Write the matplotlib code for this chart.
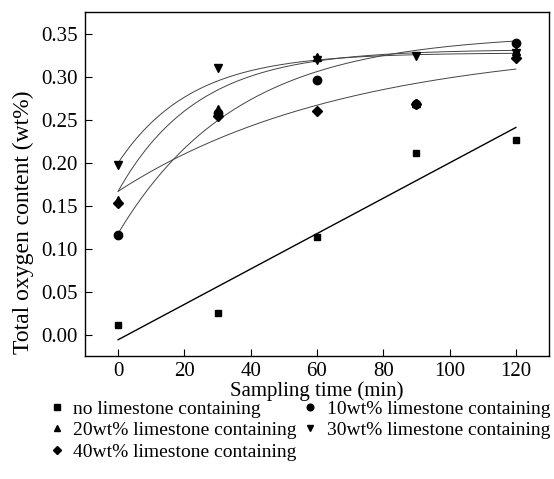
import numpy as np
import matplotlib.pyplot as plt
from matplotlib.ticker import FormatStrFormatter

plt.rcParams['font.family'] = ['Liberation Serif', 'DejaVu Serif']

# sampling times (min)
t = [0, 30, 60, 90, 120]

# total oxygen content (wt%)
no_lime = [0.011, 0.026, 0.114, 0.211, 0.227]
lime10 = [0.116, 0.258, 0.296, 0.269, 0.340]
lime20 = [0.157, 0.263, 0.323, 0.270, 0.330]
lime30 = [0.197, 0.310, 0.320, 0.324, 0.328]
lime40 = [0.153, 0.254, 0.260, 0.269, 0.322]

labels = ['no limestone containing', '10wt% limestone containing',
          '20wt% limestone containing', '30wt% limestone containing',
          '40wt% limestone containing']

# fitted curves y = a - b*exp(-x/tau), parameters
fit10 = (0.350, 0.232, 36.0)
fit20 = (0.332, 0.165, 24.0)
fit30 = (0.328, 0.128, 22.0)
fit40 = (0.3394, 0.1724, 69.0)


def expfit(x, p):
    a, b, tau = p
    return a - b*np.exp(-x/tau)


fig = plt.figure(figsize=(5.54, 4.79), dpi=100)
ax = fig.add_axes([0.1534, 0.2568, 0.8376, 0.7182])

xs = np.linspace(0, 120, 200)
k, c = np.polyfit(t, no_lime, 1)
ax.plot(xs, k*xs + c, color='black', lw=1.0)
for p in (fit10, fit20, fit30, fit40):
    ax.plot(xs, expfit(xs, p), color='#444444', lw=0.7)

ax.plot(t, no_lime, 's', color='black', ms=5, ls='none', label=labels[0])
ax.plot(t, lime10, 'o', color='black', ms=6, ls='none', label=labels[1])
ax.plot(t, lime20, '^', color='black', ms=6, ls='none', label=labels[2])
ax.plot(t, lime30, 'v', color='black', ms=6, ls='none', label=labels[3])
ax.plot(t, lime40, 'D', color='black', ms=5, ls='none', label=labels[4])

ax.set_xlim(-10, 130)
ax.set_ylim(-0.0245, 0.3755)
ax.set_xticks([0, 20, 40, 60, 80, 100, 120])
ax.set_yticks(np.arange(0, 0.36, 0.05))
ax.yaxis.set_major_formatter(FormatStrFormatter('%.2f'))
ax.tick_params(direction='in', length=5, labelsize=15, top=False, right=False)
ax.tick_params(axis='x', pad=4.5)
ax.tick_params(axis='y', pad=5)
for s in ax.spines.values():
    s.set_linewidth(1.0)

ax.set_xlabel('Sampling time (min)', fontsize=15, labelpad=0)
ax.set_ylabel('Total oxygen content (wt%)', fontsize=17)
ax.yaxis.set_label_coords(-0.11, 0.39)

# legend filled row by row, like the original
h, l = ax.get_legend_handles_labels()
order = [0, 2, 4, 1, 3]
fig.legend([h[i] for i in order], [l[i] for i in order], ncol=2,
           loc='upper left', bbox_to_anchor=(0.088, 0.165),
           frameon=False, fontsize=14, markerscale=0.8, handlelength=0.8,
           handletextpad=0.45, columnspacing=0.3, labelspacing=0.2,
           borderpad=0, borderaxespad=0)

fig.savefig('out.png', dpi=100)
